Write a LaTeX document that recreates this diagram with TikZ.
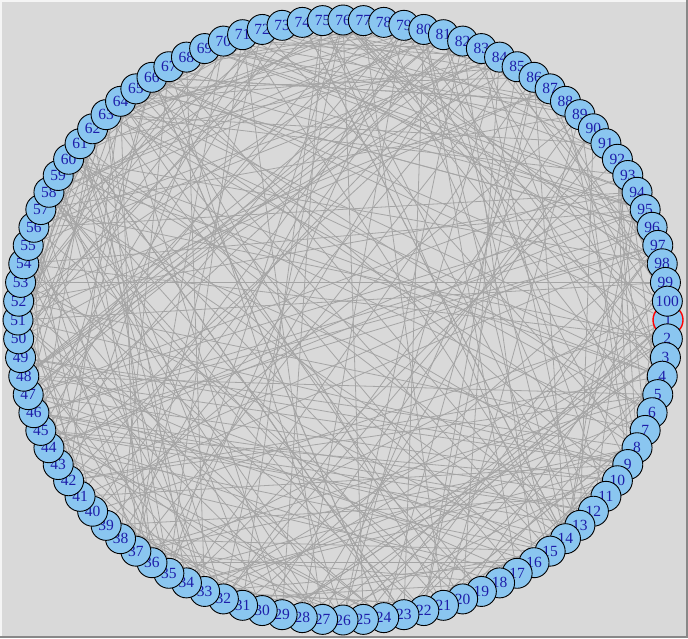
\documentclass[tikz,border=0pt]{standalone}
\usepackage{fontspec}
\setmainfont{Liberation Serif}
\definecolor{bgcol}{RGB}{217,217,217}
\definecolor{edgegray}{RGB}{165,165,165}
\definecolor{nodefill}{RGB}{138,198,240}
\definecolor{labelblue}{RGB}{30,30,170}
\definecolor{lightedge}{RGB}{245,245,245}
\definecolor{darkedge}{RGB}{136,136,136}
\begin{document}
\begin{tikzpicture}[x=1pt,y=-1pt,
  vtx/.style={circle,draw=black,fill=nodefill,minimum size=30pt,inner sep=0pt,
    line width=0.9pt,text=labelblue,font=\fontsize{15.5}{15.5}\selectfont},
  edgeline/.style={draw=edgegray,line width=0.8pt}]
\useasboundingbox (0,0) rectangle (688,638);
\fill[bgcol] (0,0) rectangle (688,638);
\fill[lightedge] (0,0) rectangle (688,2);
\fill[lightedge] (0,0) rectangle (2,638);
\fill[darkedge] (686,0) rectangle (688,638);
\fill[darkedge] (0,636) rectangle (688,638);
\foreach \i in {1,...,100}{
  \coordinate (c\i) at ({343+325*cos((\i-1)*3.6)},{320+300*sin((\i-1)*3.6)});
}
\pgfmathsetseed{7}
\foreach \k in {1,...,380}{
  \pgfmathrandominteger{\a}{1}{100}
  \pgfmathrandominteger{\b}{1}{100}
  \draw[edgeline] (c\a) -- (c\b);
}
\node[vtx,draw=red,line width=1.4pt] (n1) at (c1) {1};
\foreach \i in {2,...,100}{
  \node[vtx] (n\i) at (c\i) {\i};
}
\end{tikzpicture}
\end{document}
